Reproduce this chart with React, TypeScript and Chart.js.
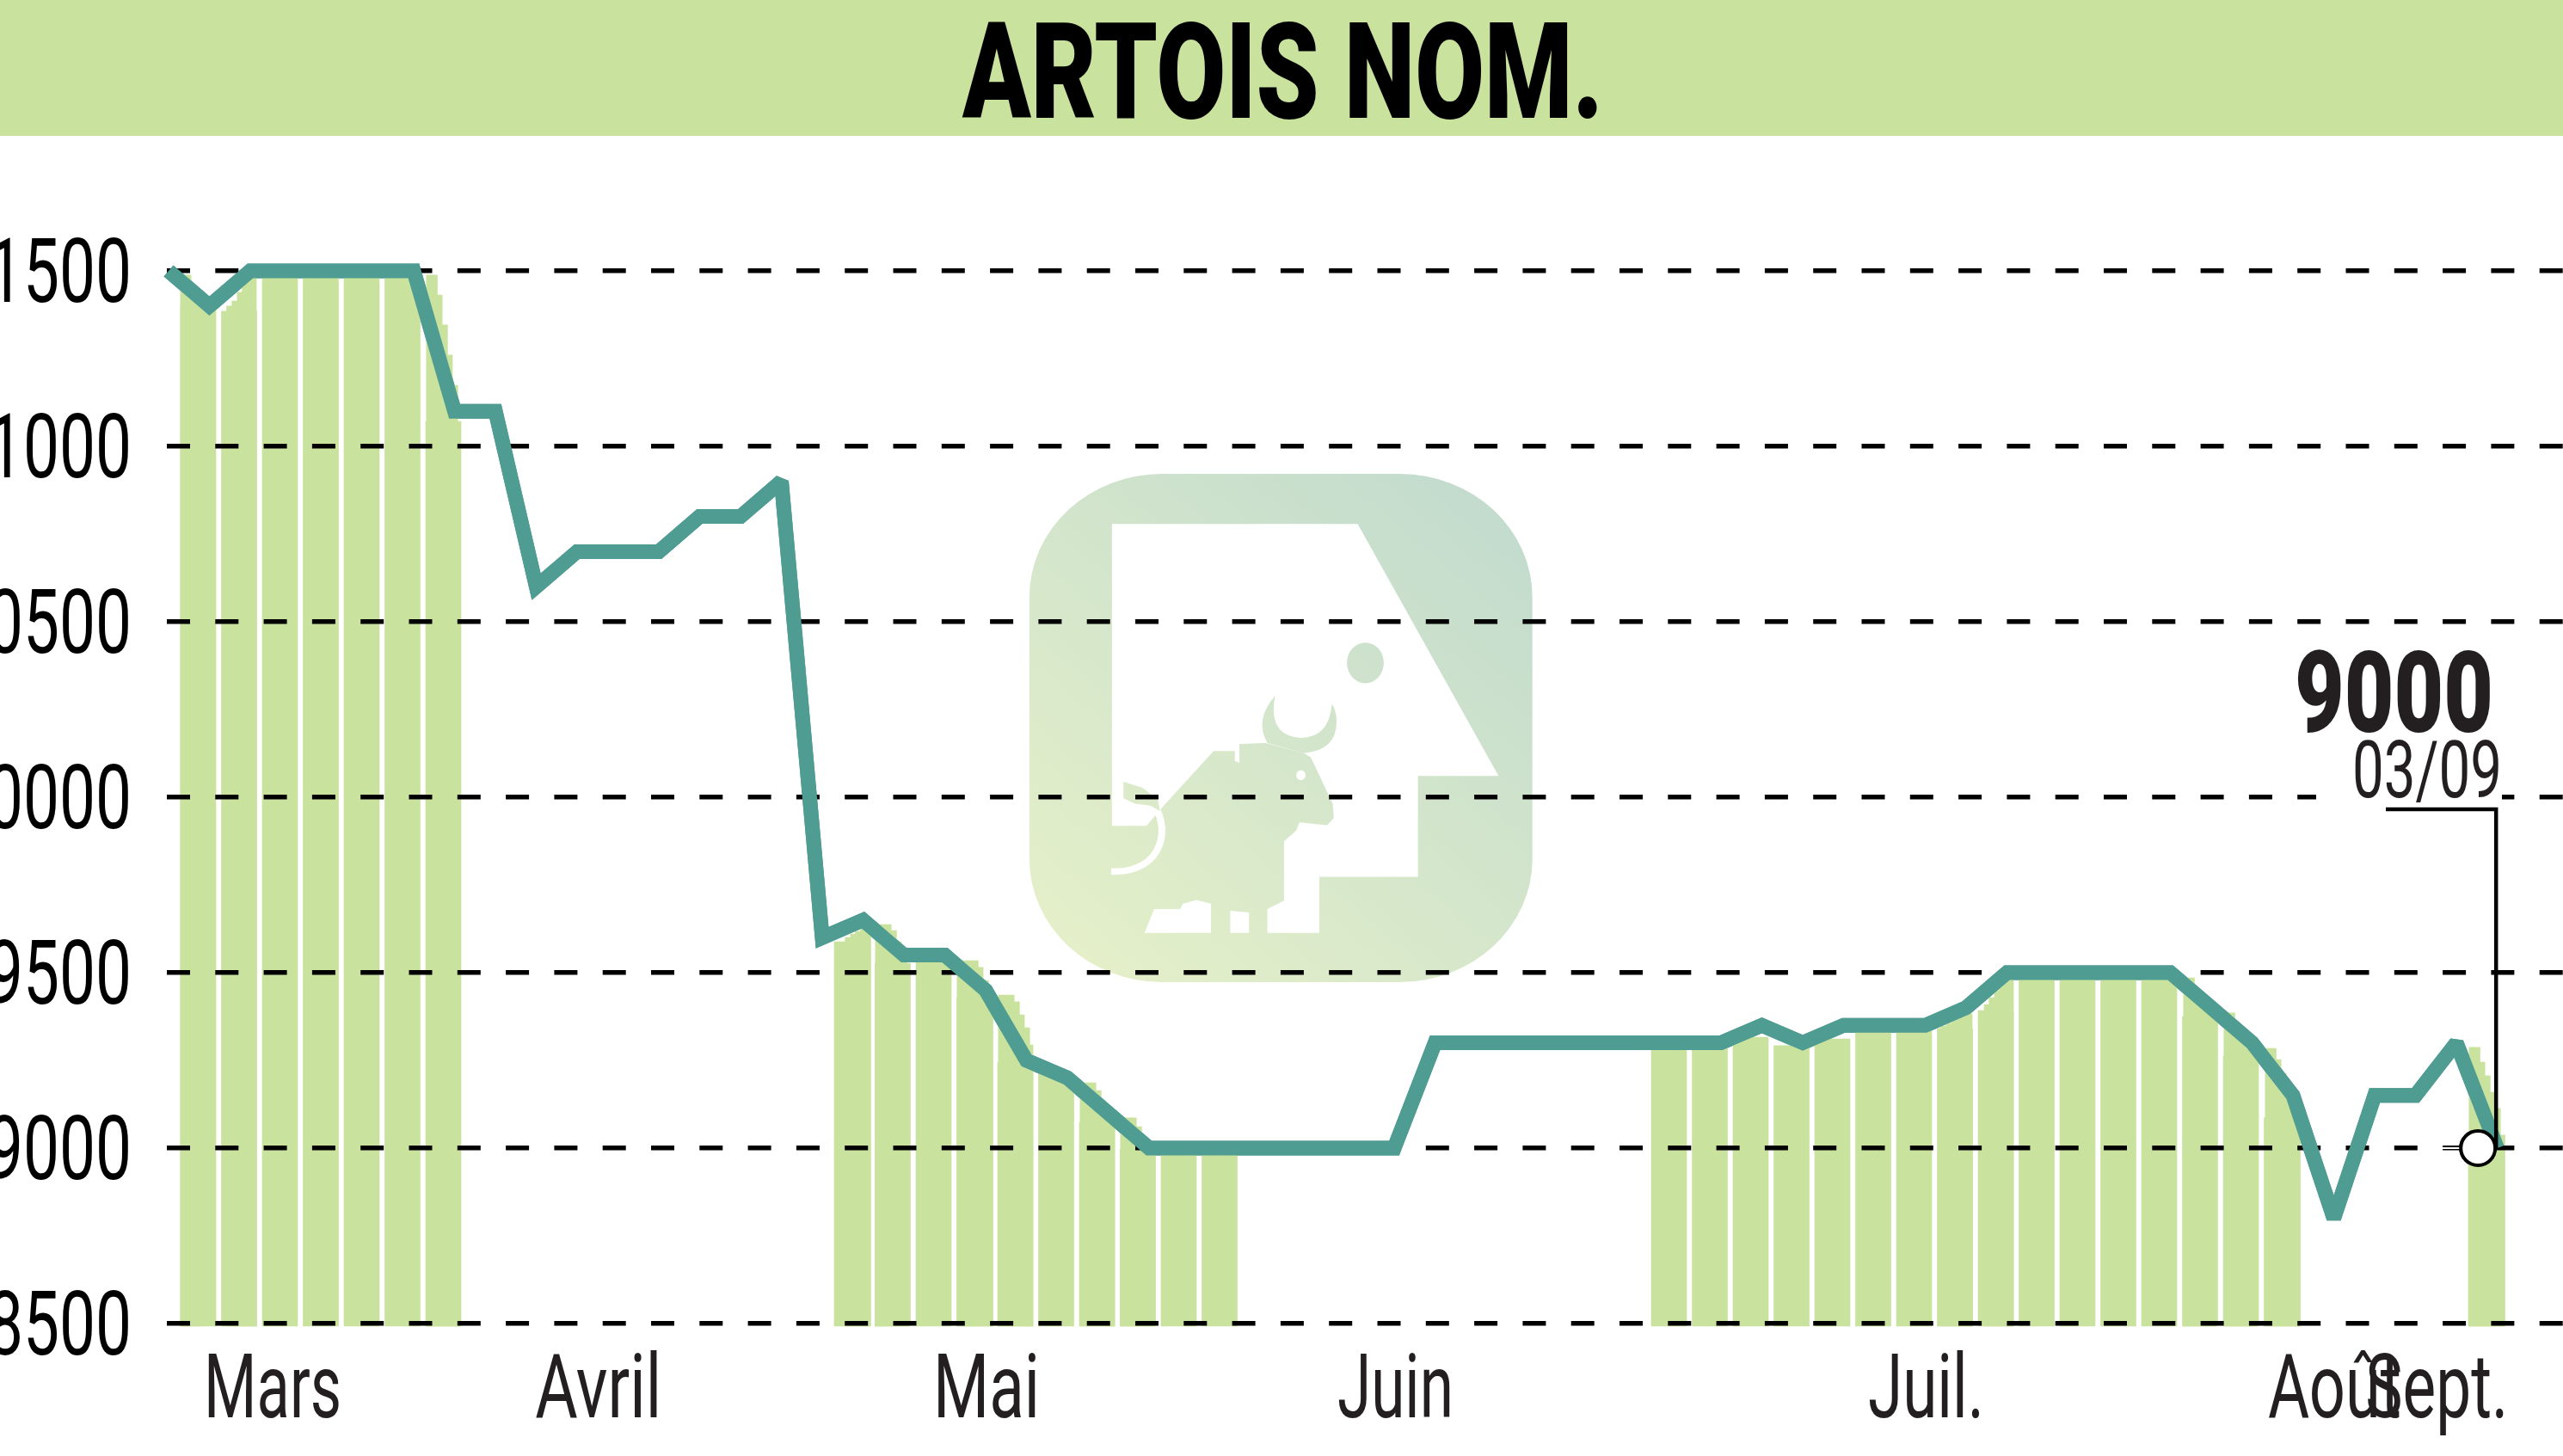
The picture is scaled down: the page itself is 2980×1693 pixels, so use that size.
import { useEffect, useRef } from "react";
import { Chart, registerables } from "chart.js";

Chart.register(...registerables);

const title = "ARTOIS NOM.";

// one close per session, x is the session number
const closes = [
  11500, 11400, 11500, 11500, 11500, 11500, 11500, 11100, 11100, 10600,
  10700, 10700, 10700, 10800, 10800, 10900, 9600, 9650, 9550, 9550,
  9450, 9250, 9200, 9100, 9000, 9000, 9000, 9000, 9000, 9000,
  9000, 9300, 9300, 9300, 9300, 9300, 9300, 9300, 9300, 9350,
  9300, 9350, 9350, 9350, 9400, 9500, 9500, 9500, 9500, 9500,
  9400, 9300, 9150, 8800, 9150, 9150, 9300, 9000,
];

// striped months behind the line
const barX = [
  0.726, 1.726, 2.726, 3.726, 4.726, 5.726, 6.726,
  16.726, 17.726, 18.726, 19.726, 20.726, 21.726, 22.726, 23.726, 24.726, 25.726,
  36.726, 37.726, 38.726, 39.726, 40.726, 41.726, 42.726, 43.726, 44.726, 45.726,
  46.726, 47.726, 48.726, 49.726, 50.726, 51.726,
  56.726,
];
const barTops = [
  11395, 11385, 11480, 11480, 11480, 11480, 11071,
  9588, 9527, 9532, 9429, 9245, 9213, 9074, 8997, 8997, 8997,
  9294, 9294, 9316, 9292, 9311, 9333, 9333, 9341, 9392, 9480,
  9480, 9480, 9480, 9375, 9262, 9086,
  8988,
];

// thin steps that give the bar tops their stair edge
const stepX = [
  0.36, 0.48, 0.61, 0.74,
  1.49, 1.62, 1.75, 1.87, 2.0, 2.08,
  6.38, 6.51, 6.63, 6.76, 6.88, 7.01,
  16.63, 16.76, 16.88, 17.01, 17.12,
  17.37, 17.49, 17.62, 17.75, 17.87, 18.0,
  19.37, 19.49, 19.62, 19.75, 19.87, 20.0, 20.11,
  20.38, 20.51, 20.63, 20.76, 20.88, 21.01, 21.09,
  22.38, 22.51, 22.63, 22.76, 22.88, 23.01, 23.09,
  23.37, 23.49, 23.62, 23.75, 23.87, 24.0,
  43.45, 43.58, 43.71, 43.83, 43.96, 44.08,
  44.51, 44.63, 44.76, 44.88, 45.01, 45.09,
  49.39, 49.52, 49.64, 49.77, 49.89, 50.02,
  50.38, 50.51, 50.63, 50.76, 50.88, 51.01,
  51.39, 51.52, 51.64, 51.77, 51.89, 52.02, 52.11,
  56.38, 56.51, 56.63, 56.76, 56.88, 57.01, 57.12,
];
const stepTops = [
  11488, 11488, 11451, 11426,
  11400, 11414, 11439, 11463, 11483, 11488,
  11488, 11488, 11431, 11346, 11260, 11174,
  9600, 9610, 9618, 9625, 9630,
  9637, 9637, 9637, 9620, 9588, 9556,
  9534, 9534, 9534, 9534, 9515, 9478, 9449,
  9436, 9436, 9436, 9417, 9380, 9343, 9294,
  9186, 9186, 9186, 9164, 9135, 9105, 9081,
  9086, 9086, 9086, 9061, 9032, 9008,
  9348, 9355, 9363, 9370, 9377, 9382,
  9409, 9429, 9449, 9466, 9478, 9483,
  9485, 9485, 9453, 9434, 9414, 9394,
  9385, 9385, 9341, 9316, 9297, 9277,
  9284, 9284, 9252, 9213, 9179, 9135, 9096,
  9287, 9287, 9245, 9206, 9159, 9113, 9037,
];

const yTicks = [8500, 9000, 9500, 10000, 10500, 11000, 11500];

const months = ["Mars", "Avril", "Mai", "Juin", "Juil.", "Août", "Sept."];
const monthX = [2.55, 10.52, 20.02, 30.03, 43.02, 53.02, 55.52];

const lastValue = "9000";
const lastDate = "03/09";
const lastMarkerX = [56.53];
const lastMarkerY = [9000];

// text widths measured on the original, its face is much narrower than ours
const monthWidths = [160, 147, 124, 135, 135, 155, 166];
const GREEN = "#c9e29d";
const TEAL = "#4f9c92";
const INK = "#231f20";
const LABEL_FONT = '400 104px Roboto';

function wideText(
  ctx: CanvasRenderingContext2D,
  text: string,
  x: number,
  baseline: number,
  font: string,
  width: number,
  align: "left" | "right" | "center",
  color: string
) {
  ctx.save();
  ctx.font = font;
  ctx.textAlign = "left";
  ctx.textBaseline = "alphabetic";
  ctx.fillStyle = color;
  const natural = ctx.measureText(text).width;
  const left = align === "right" ? x - width : align === "center" ? x - width / 2 : x;
  ctx.translate(left, baseline);
  ctx.scale(width / natural, 1);
  ctx.fillText(text, 0, 0);
  ctx.restore();
}

function polygon(ctx: CanvasRenderingContext2D, pts: number[][]) {
  ctx.beginPath();
  pts.forEach(([x, y], i) => (i ? ctx.lineTo(x, y) : ctx.moveTo(x, y)));
  ctx.closePath();
  ctx.fill();
}

// the bull watermark in the middle of the plot
function drawLogo(ctx: CanvasRenderingContext2D) {
  ctx.save();
  ctx.translate(1150, 520);
  ctx.scale(1 / 2.24, 1 / 2.412);

  const grad = ctx.createLinearGradient(105, 1500, 1415, 75);
  grad.addColorStop(0, "#e7f1c8");
  grad.addColorStop(1, "#c0dace");

  ctx.fillStyle = grad;
  ctx.beginPath();
  ctx.roundRect(105, 75, 1310, 1425, 345);
  ctx.fill();

  ctx.fillStyle = "#fff";
  polygon(ctx, [
    [320, 215], [960, 215], [1327, 922], [1117, 922], [1117, 1205], [860, 1205],
    [860, 1362], [725, 1362], [725, 1295], [768, 1272], [768, 1105], [800, 1075],
    [808, 1052], [880, 1060], [898, 1040], [895, 1000], [838, 870], [820, 858],
    [720, 830], [652, 832], [652, 885], [640, 880], [640, 852], [585, 852],
    [455, 1005], [410, 1062], [320, 1062],
  ]);
  polygon(ctx, [
    [405, 1362], [430, 1295], [498, 1295], [505, 1280], [540, 1270], [578, 1280], [578, 1362],
  ]);
  polygon(ctx, [[628, 1300], [677, 1305], [677, 1362], [628, 1362]]);
  ctx.beginPath();
  ctx.ellipse(812, 920, 12, 14, 0, 0, Math.PI * 2);
  ctx.fill();

  ctx.strokeStyle = "#fff";
  ctx.lineWidth = 18;
  ctx.beginPath();
  ctx.moveTo(425, 1000);
  ctx.bezierCurveTo(470, 1050, 465, 1195, 318, 1190);
  ctx.stroke();

  ctx.fillStyle = grad;
  ctx.beginPath();
  ctx.moveTo(745, 697);
  ctx.quadraticCurveTo(690, 765, 725, 830);
  ctx.lineTo(820, 858);
  ctx.quadraticCurveTo(905, 850, 905, 770);
  ctx.quadraticCurveTo(905, 740, 893, 720);
  ctx.quadraticCurveTo(885, 815, 812, 815);
  ctx.quadraticCurveTo(725, 810, 745, 697);
  ctx.closePath();
  ctx.fill();
  polygon(ctx, [
    [350, 938], [350, 985], [380, 1000], [420, 1005], [445, 1020], [440, 990], [400, 955],
  ]);
  ctx.beginPath();
  ctx.ellipse(980, 605, 48, 57, 0, 0, Math.PI * 2);
  ctx.fill();
  ctx.restore();
}

const pagePlugin = {
  id: "page",
  beforeDraw(chart: Chart) {
    const ctx = chart.ctx;
    ctx.miterLimit = 2;
    ctx.fillStyle = GREEN;
    ctx.fillRect(0, 0, chart.width, 158);
    wideText(ctx, title, 1119, 137, '900 156px Roboto', 745, "left", "#000");
  },
  beforeDatasetsDraw(chart: Chart) {
    drawLogo(chart.ctx);
  },
  afterDraw(chart: Chart) {
    const ctx = chart.ctx;
    const y = chart.scales.y;
    const x = chart.scales.x;

    // grid sits above the bars but under the line, so the line goes again here
    chart.getDatasetMeta(2).controller.draw();

    yTicks.forEach((t) => {
      const text = String(t);
      wideText(ctx, text, 153, y.getPixelForValue(t) + 36, LABEL_FONT, text.length * 42, "right", "#000");
    });
    months.forEach((m, i) => {
      wideText(ctx, m, x.getPixelForValue(monthX[i]), 1648, LABEL_FONT, monthWidths[i], "center", INK);
    });

    // callout for the last close
    const px = x.getPixelForValue(lastMarkerX[0]);
    const py = y.getPixelForValue(lastMarkerY[0]);
    ctx.fillStyle = "#fff";
    ctx.fillRect(2693, 860, 216, 78);
    ctx.fillRect(2838, py - 1, 24, 2);
    ctx.strokeStyle = "#000";
    ctx.lineWidth = 4.5;
    ctx.lineJoin = "miter";
    ctx.beginPath();
    ctx.moveTo(2774, 941);
    ctx.lineTo(px + 21, 941);
    ctx.lineTo(px + 21, py);
    ctx.stroke();
    chart.getDatasetMeta(3).controller.draw();

    wideText(ctx, lastValue, 2899, 851, '900 132px Roboto', 231, "right", INK);
    wideText(ctx, lastDate, 2909, 927, '400 92px Roboto', 174, "right", INK);
  },
};

export default function App() {
  const canvasRef = useRef<HTMLCanvasElement | null>(null);

  useEffect(() => {
    if (!canvasRef.current) return;

    const chart = new Chart(canvasRef.current, {
      type: "bar",
      data: {
        datasets: [
          {
            label: "bars",
            data: barX.map((x, i) => ({ x, y: barTops[i] })),
            backgroundColor: GREEN,
            barThickness: 41,
            grouped: false,
            base: 8493,
          },
          {
            label: "steps",
            data: stepX.map((x, i) => ({ x, y: stepTops[i] })),
            backgroundColor: GREEN,
            barThickness: 6.5,
            grouped: false,
            base: 8493,
          },
          {
            type: "line",
            label: "close",
            data: closes.map((y, x) => ({ x, y })),
            borderColor: TEAL,
            borderWidth: 17,
            borderJoinStyle: "miter",
            borderCapStyle: "butt",
            pointRadius: 0,
            tension: 0,
            clip: false,
          },
          {
            type: "scatter",
            label: "last",
            data: lastMarkerX.map((x, i) => ({ x, y: lastMarkerY[i] })),
            pointRadius: 20,
            pointBackgroundColor: "#fff",
            pointBorderColor: "#000",
            pointBorderWidth: 4,
            clip: false,
          },
        ],
      },
      options: {
        responsive: false,
        animation: false,
        devicePixelRatio: 1,
        layout: {
          autoPadding: false,
          padding: { left: 194, top: 233.4, right: 0, bottom: 145.84 },
        },
        plugins: { legend: { display: false }, tooltip: { enabled: false } },
        scales: {
          x: {
            type: "linear",
            offset: false,
            min: -0.042,
            max: 58.61,
            grid: { display: false, drawTicks: false },
            border: { display: false },
            ticks: { display: false },
          },
          y: {
            min: 8480,
            max: 11700,
            afterBuildTicks: (axis: any) => {
              axis.ticks = yTicks.map((value) => ({ value }));
            },
            grid: { color: "#000", lineWidth: 5.5, drawTicks: false, z: 1 },
            border: { display: false, dash: [27, 29.3] },
            ticks: { display: false },
          },
        },
      },
      plugins: [pagePlugin],
    } as any);

    return () => chart.destroy();
  }, []);

  return (
    <canvas
      ref={canvasRef}
      width={2980}
      height={1693}
      style={{ position: "fixed", left: 0, top: 0 }}
    />
  );
}
